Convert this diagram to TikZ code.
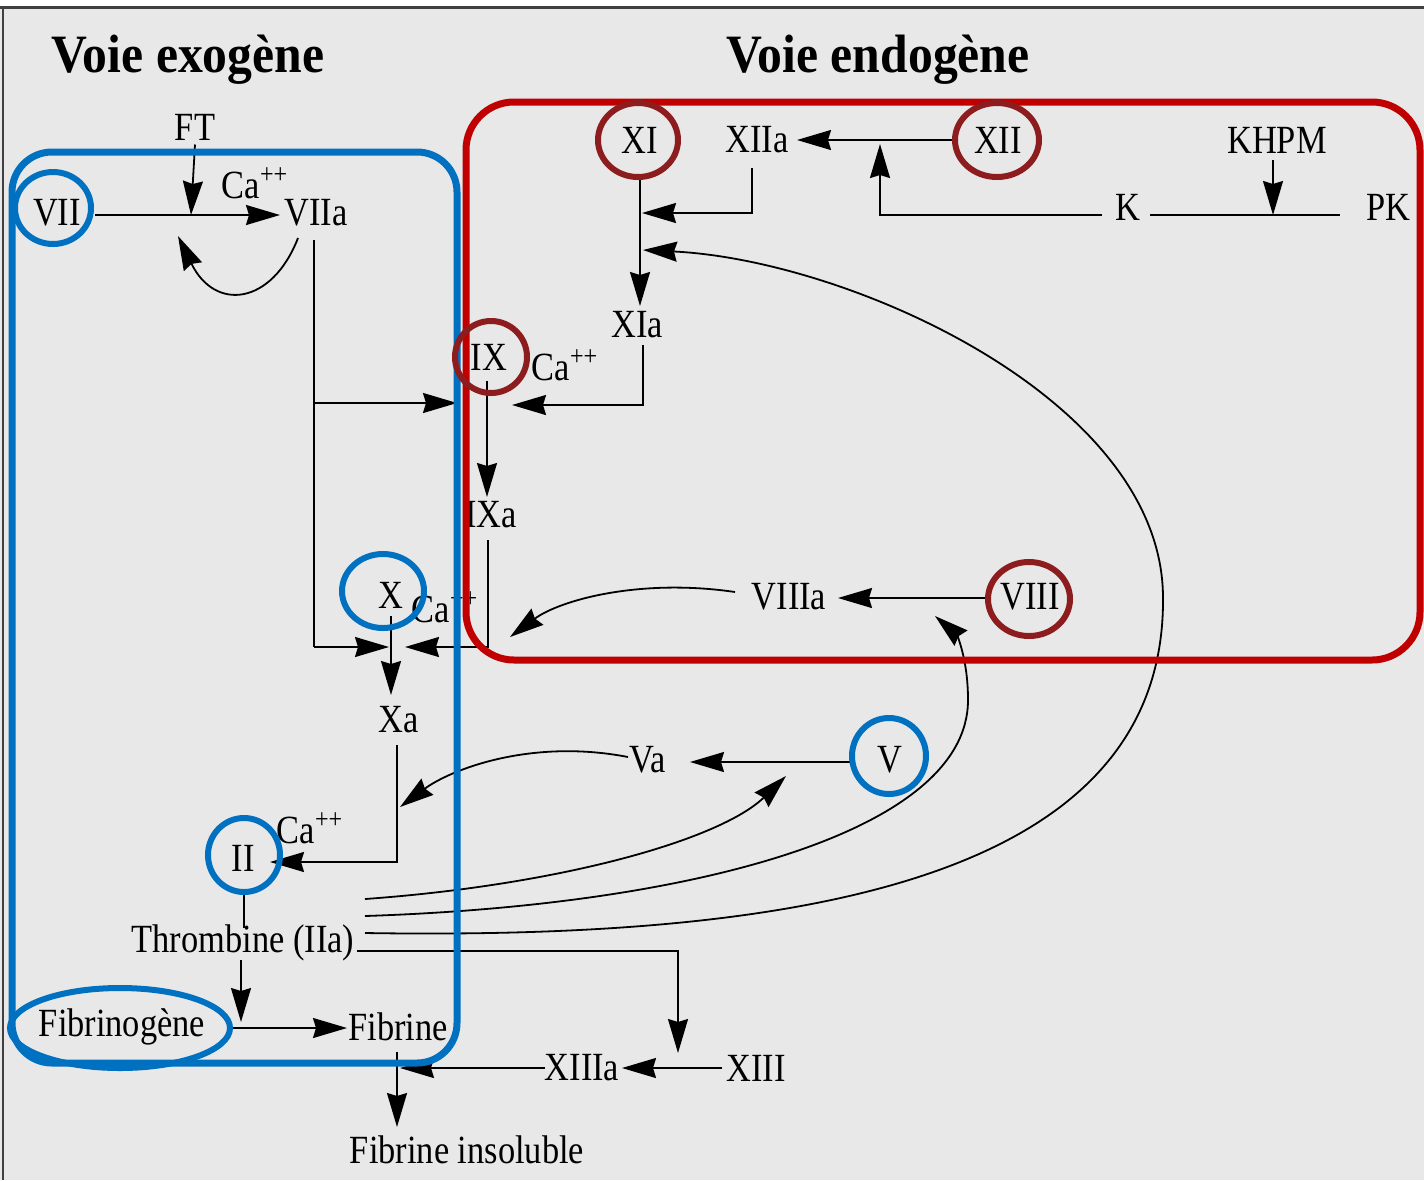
\documentclass[tikz,border=0pt]{standalone}
\usepackage{fontspec}
\setmainfont{Liberation Serif}[FakeStretch=0.86]
\newfontfamily\titlefont{Liberation Serif}[FakeStretch=0.92]
\usetikzlibrary{arrows.meta,shapes.geometric}
\definecolor{bg}{RGB}{232,232,232}
\definecolor{myblue}{RGB}{0,112,192}
\definecolor{myred}{RGB}{192,0,0}
\definecolor{mydred}{RGB}{140,28,30}
\tikzset{
 lab/.style={font=\fontsize{20}{24}\selectfont, inner sep=2pt},
 ttl/.style={font=\titlefont\bfseries\fontsize{27}{32}\selectfont, inner sep=0pt},
 ln/.style={line width=0.9pt},
 ar/.style={ln,-{Stealth[length=17pt,width=10pt,inset=1.5pt]}},
 bring/.style={draw=myblue,line width=3pt,ellipse,inner sep=0pt},
 rring/.style={draw=mydred,line width=3pt,ellipse,inner sep=0pt},
 frame/.style={line width=3.5pt},
}
\begin{document}
\begin{tikzpicture}[x=0.5pt,y=-0.5pt]
\useasboundingbox (0,0) rectangle (1424,1180);
\fill[bg] (0,0) rectangle (1424,1180);
\fill[white] (0,0) rectangle (1424,6);
\draw[line width=1.5pt,black!75] (0,7) -- (1424,7);
\draw[line width=1.2pt,black!75] (3,7) -- (3,1180);

% titles
\node[ttl] (t1) at (188,60) {Voie exogène};
\node[ttl] (t2) at (878,60) {Voie endogène};

% labels
\node[lab] (FT) at (195,127) {FT};
\node[lab] (VII) at (57,213) {VII};
\node[lab] (ca1) at (255,183) {Ca\textsuperscript{++}};
\node[lab] (VIIa) at (316,213) {VIIa};
\node[lab] (XI) at (640,140) {XI};
\node[lab] (XIIa) at (757,140) {XIIa};
\node[lab] (XII) at (998,140) {XII};
\node[lab] (KHPM) at (1277,140) {KHPM};
\node[lab] (K) at (1128,207) {K};
\node[lab] (PK) at (1388,207) {PK};
\node[lab] (XIa) at (637,325) {XIa};
\node[lab] (IX) at (489,357) {IX};
\node[lab] (ca2) at (565,365) {Ca\textsuperscript{++}};
\node[lab] (IXa) at (491,515) {IXa};
\node[lab] (X) at (391,595) {X};
\node[lab] (ca3) at (445,607) {Ca\textsuperscript{++}};
\node[lab] (VIIIa) at (789,597) {VIIIa};
\node[lab] (VIII) at (1030,597) {VIII};
\node[lab] (Xa) at (399,720) {Xa};
\node[lab] (Va) at (648,760) {Va};
\node[lab] (V) at (890,760) {V};
\node[lab] (ca4) at (310,828) {Ca\textsuperscript{++}};
\node[lab] (II) at (243,858) {II};
\node[lab] (Thr) at (243,943) {Thrombine (IIa)};
\node[lab] (Fgn) at (122,1027) {Fibrinogène};
\node[lab] (Fib) at (398,1027) {Fibrine};
\node[lab] (XIIIa) at (582,1068) {XIIIa};
\node[lab] (XIII) at (756,1068) {XIII};
\node[lab] (Fins) at (467,1150) {Fibrine insoluble};

% junction coordinates
\coordinate (jFT) at (191,215);
\coordinate (jVIIs) at (95,215);
\coordinate (jVIIe) at (280,215);
\coordinate (l1) at (298,238);
\coordinate (l2) at (178,236);
\coordinate (v1) at (314,240);
\coordinate (v2) at (314,647);
\coordinate (v3) at (314,403);
\coordinate (jIXl) at (457,403);
\coordinate (jXl) at (389,647);
\coordinate (xi1) at (640,178);
\coordinate (xi2) at (640,306);
\coordinate (xa1) at (752,168);
\coordinate (xa2) at (752,213);
\coordinate (xa3) at (642,213);
\coordinate (xii1) at (957,140);
\coordinate (xii2) at (797,140);
\coordinate (kl) at (1102,215);
\coordinate (kc) at (880,215);
\coordinate (kt) at (880,144);
\coordinate (pk1) at (1150,215);
\coordinate (pk2) at (1340,215);
\coordinate (kh1) at (1273,160);
\coordinate (kh2) at (1273,215);
\coordinate (xia1) at (643,345);
\coordinate (xia2) at (643,405);
\coordinate (xia3) at (512,405);
\coordinate (ix1) at (487,381);
\coordinate (ix2) at (487,497);
\coordinate (ixa1) at (488,540);
\coordinate (ixa2) at (488,647);
\coordinate (ixa3) at (405,647);
\coordinate (x1) at (391,616);
\coordinate (x2) at (391,695);
\coordinate (viiia1) at (735,592);
\coordinate (viiia2) at (510,637);
\coordinate (viii1) at (990,598);
\coordinate (viii2) at (838,598);
\coordinate (xa1b) at (397,745);
\coordinate (xa2b) at (397,862);
\coordinate (xa3b) at (270,862);
\coordinate (va1) at (628,757);
\coordinate (va2) at (400,807);
\coordinate (v5a) at (853,762);
\coordinate (v5b) at (690,762);
\coordinate (ii1) at (244,893);
\coordinate (ii2) at (244,928);
\coordinate (th1) at (241,960);
\coordinate (th2) at (241,1022);
\coordinate (fg1) at (232,1028);
\coordinate (fg2) at (347,1028);
\coordinate (th3) at (357,951);
\coordinate (th4) at (678,951);
\coordinate (th5) at (678,1053);
\coordinate (xiii1) at (722,1068);
\coordinate (xiii2) at (622,1068);
\coordinate (xiiia1) at (545,1068);
\coordinate (xiiia2) at (400,1068);
\coordinate (fb1) at (397,1052);
\coordinate (fb2) at (397,1127);
% feedback curve ends
\coordinate (c1s) at (365,899);
\coordinate (c1e) at (786,776);
\coordinate (c2s) at (365,916);
\coordinate (c2m) at (968,700);
\coordinate (c2e) at (935,616);
\coordinate (c3s) at (365,933);
\coordinate (c3m) at (1163,598);
\coordinate (c3e) at (643,250);

% connectors
\draw[ar] (jVIIs) -- (jVIIe);
\draw[ar] (FT.south) -- (jFT);
\draw[ar] (l1) .. controls (272,305) and (215,312) .. (l2);
\draw[ln] (v1) -- (v2);
\draw[ar] (v2) -- (jXl);
\draw[ar] (v3) -- (jIXl);
\draw[ar] (xi1) -- (xi2);
\draw[ar] (xa1) -- (xa2) -- (xa3);
\draw[ar] (xii1) -- (xii2);
\draw[ar] (kl) -- (kc) -- (kt);
\draw[ln] (pk1) -- (pk2);
\draw[ar] (kh1) -- (kh2);
\draw[ar] (xia1) -- (xia2) -- (xia3);
\draw[ar] (ix1) -- (ix2);
\draw[ar] (ixa1) -- (ixa2) -- (ixa3);
\draw[ar] (x1) -- (x2);
\draw[ar] (viiia1) .. controls (640,578) and (560,600) .. (viiia2);
\draw[ar] (viii1) -- (viii2);
\draw[ar] (xa1b) -- (xa2b) -- (xa3b);
\draw[ar] (va1) .. controls (530,738) and (450,770) .. (va2);
\draw[ar] (v5a) -- (v5b);
\draw[ln] (ii1) -- (ii2);
\draw[ar] (th1) -- (th2);
\draw[ar] (fg1) -- (fg2);
\draw[ar] (th3) -- (th4) -- (th5);
\draw[ar] (xiii1) -- (xiii2);
\draw[ar] (xiiia1) -- (xiiia2);
\draw[ar] (fb1) -- (fb2);

% thrombine feedback curves
\draw[ar] (c1s) .. controls (560,885) and (720,840) .. (c1e);
\draw[ar] (c2s) .. controls (700,905) and (968,830) .. (c2m) .. controls (968,655) and (955,633) .. (c2e);
\draw[ar] (c3s) .. controls (800,940) and (1165,880) .. (c3m) .. controls (1163,400) and (850,260) .. (c3e);

% boxes
\draw[myblue,frame,rounded corners=20pt] (12,152) rectangle (457,1063);
\draw[myred,frame,rounded corners=24pt] (466,102) rectangle (1420,660);

% rings
\node[bring,minimum width=38pt,minimum height=36pt] (cVII) at (53,208) {};
\node[bring,minimum width=41pt,minimum height=37pt] (cX) at (383,591) {};
\node[bring,minimum width=37pt,minimum height=38pt] (cV) at (889,756) {};
\node[bring,minimum width=36pt,minimum height=37pt] (cII) at (244,855) {};
\node[bring,minimum width=110pt,minimum height=40pt] (cFgn) at (120,1028) {};
\node[rring,minimum width=40pt,minimum height=37pt] (cXI) at (638,140) {};
\node[rring,minimum width=42pt,minimum height=37pt] (cXII) at (997,140) {};
\node[rring,minimum width=36pt,minimum height=36pt] (cIX) at (491,357) {};
\node[rring,minimum width=41pt,minimum height=37pt] (cVIII) at (1029,599) {};
\end{tikzpicture}
\end{document}
